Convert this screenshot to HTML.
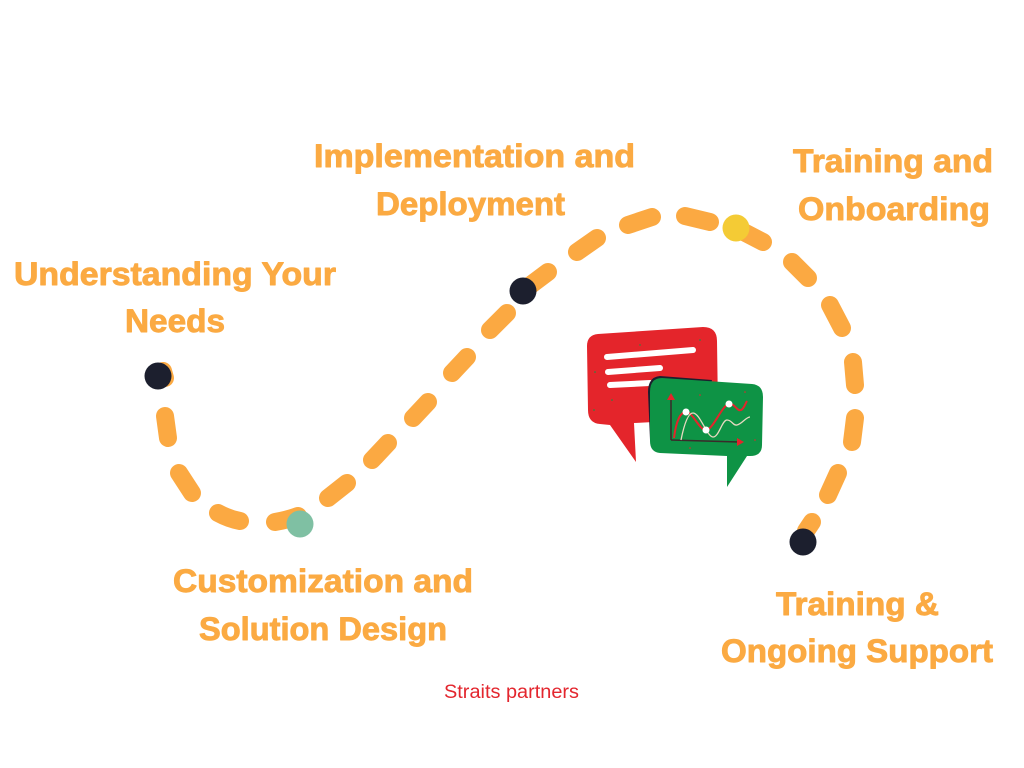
<!DOCTYPE html>
<html><head><meta charset="utf-8"><style>
html,body{margin:0;padding:0;background:#fff;width:1024px;height:768px;overflow:hidden}
svg{display:block}
.t{font-family:"Liberation Sans",Arial,sans-serif;font-weight:bold;font-size:32px;fill:#FBAA42;stroke:#FBAA42;stroke-width:0.9px;stroke-linejoin:round}
</style></head><body>
<svg width="1024" height="768" viewBox="0 0 1024 768" xmlns="http://www.w3.org/2000/svg">
<rect width="1024" height="768" fill="#fff"/>
<!-- dashed path -->
<g stroke="#FBA942" stroke-width="18" stroke-linecap="round" fill="none">
<line x1="163" y1="371" x2="165" y2="378"/>
<line x1="165" y1="416" x2="168" y2="438"/>
<line x1="179" y1="473" x2="192" y2="493"/>
<path d="M218,513 Q229,519 240,521"/>
<path d="M275,522 Q287,520 298,516"/>
<line x1="328" y1="498" x2="347" y2="483"/>
<line x1="372" y1="460" x2="388" y2="443"/>
<line x1="413" y1="418" x2="428" y2="402"/>
<line x1="452" y1="373" x2="467" y2="357"/>
<line x1="490" y1="330" x2="507" y2="313"/>
<line x1="528" y1="287" x2="548" y2="272"/>
<line x1="577" y1="252" x2="597" y2="238"/>
<line x1="628" y1="225" x2="652" y2="217"/>
<line x1="685" y1="216" x2="710" y2="222"/>
<line x1="736" y1="228" x2="763" y2="242"/>
<line x1="792" y1="262" x2="808" y2="278"/>
<line x1="830" y1="305" x2="842" y2="328"/>
<line x1="853" y1="362" x2="855" y2="385"/>
<line x1="855" y1="418" x2="852" y2="442"/>
<line x1="838" y1="473" x2="828" y2="495"/>
<line x1="812" y1="522" x2="806" y2="531"/>
</g>
<!-- dots -->
<circle cx="158" cy="376" r="13.5" fill="#1C1F2E"/>
<circle cx="523" cy="291" r="13.5" fill="#1C1F2E"/>
<circle cx="803" cy="542" r="13.5" fill="#1C1F2E"/>
<circle cx="300" cy="524" r="13.5" fill="#7FC0A3"/>
<circle cx="736" cy="228" r="13.5" fill="#F4CB35"/>

<!-- red bubble -->
<path d="M598,334 L703,327 Q717,327 717,341 L718,410 Q718,418 710,419 L634,423 L636,462 L610,425 L600,424 Q588,423 588,410 L587,346 Q587,335 598,334 Z" fill="#E4252B"/>
<g stroke="#fff" stroke-width="6" stroke-linecap="round">
<line x1="607" y1="357" x2="693" y2="350"/>
<line x1="608" y1="372" x2="660" y2="368"/>
<line x1="610" y1="385" x2="650" y2="383"/>
</g>
<!-- shadow and green bubble -->
<path d="M660,376 L712,380 L700,420 L650,440 L648,392 Q648,377 660,376 Z" fill="#1C1F2E"/>
<path d="M662,378 L752,384 Q763,385 763,397 L762,445 Q762,456 750,456 L747,456 L727,487 L727,456 L660,453 Q650,452 650,441 L650,392 Q650,378 662,378 Z" fill="#0E9345"/>
<!-- chart -->
<g fill="none">
<line x1="671" y1="440" x2="671" y2="398" stroke="#3a2a2a" stroke-width="1.5"/>
<line x1="671" y1="440" x2="739" y2="442" stroke="#3a2a2a" stroke-width="1.5"/>
<path d="M674,438 C676,422 680,412 686,412 C693,412 699,430 706,430 C713,430 722,405 729,404 C735,403 737,412 741,410 C744,409 745,404 747,401" stroke="#E4252B" stroke-width="2"/>
<path d="M681,440 C684,425 688,413 693,413 C700,413 707,437 713,437 C719,437 722,420 727,420 C732,420 733,426 737,425 C742,424 746,417 750,417" stroke="#E8D9C0" stroke-width="1.3"/>
</g>
<path d="M671,393 L667,400 L675,400 Z" fill="#E4252B"/>
<path d="M744,442 L737,438 L737,446 Z" fill="#E4252B"/>
<circle cx="686" cy="412" r="3.5" fill="#fff"/>
<circle cx="706" cy="430" r="3.5" fill="#fff"/>
<circle cx="729" cy="404" r="3.5" fill="#fff"/>
<!-- speckles -->
<g fill="#0E9345">
<circle cx="595" cy="372" r="0.8"/><circle cx="612" cy="400" r="0.8"/><circle cx="700" cy="340" r="0.8"/><circle cx="640" cy="345" r="0.7"/><circle cx="594" cy="410" r="0.8"/>
</g>
<g fill="#E4252B">
<circle cx="700" cy="395" r="0.8"/><circle cx="745" cy="392" r="0.8"/><circle cx="690" cy="448" r="0.8"/><circle cx="755" cy="440" r="0.8"/>
</g>

<!-- labels -->
<text class="t" x="314" y="167" textLength="321" lengthAdjust="spacingAndGlyphs">Implementation and</text>
<text class="t" x="376" y="215" textLength="189" lengthAdjust="spacingAndGlyphs">Deployment</text>
<text class="t" x="14" y="285" textLength="322" lengthAdjust="spacingAndGlyphs">Understanding Your</text>
<text class="t" x="125" y="332" textLength="100" lengthAdjust="spacingAndGlyphs">Needs</text>
<text class="t" x="793" y="172" textLength="200" lengthAdjust="spacingAndGlyphs">Training and</text>
<text class="t" x="798" y="220" textLength="192" lengthAdjust="spacingAndGlyphs">Onboarding</text>
<text class="t" x="173" y="592" textLength="300" lengthAdjust="spacingAndGlyphs">Customization and</text>
<text class="t" x="199" y="640" textLength="248" lengthAdjust="spacingAndGlyphs">Solution Design</text>
<text class="t" x="776" y="615" textLength="163" lengthAdjust="spacingAndGlyphs">Training &amp;</text>
<text class="t" x="721" y="662" textLength="272" lengthAdjust="spacingAndGlyphs">Ongoing Support</text>
<text x="444" y="698" font-family="Liberation Sans, Arial, sans-serif" font-size="19" fill="#E3262E" textLength="135" lengthAdjust="spacingAndGlyphs">Straits partners</text>
</svg>
</body></html>
